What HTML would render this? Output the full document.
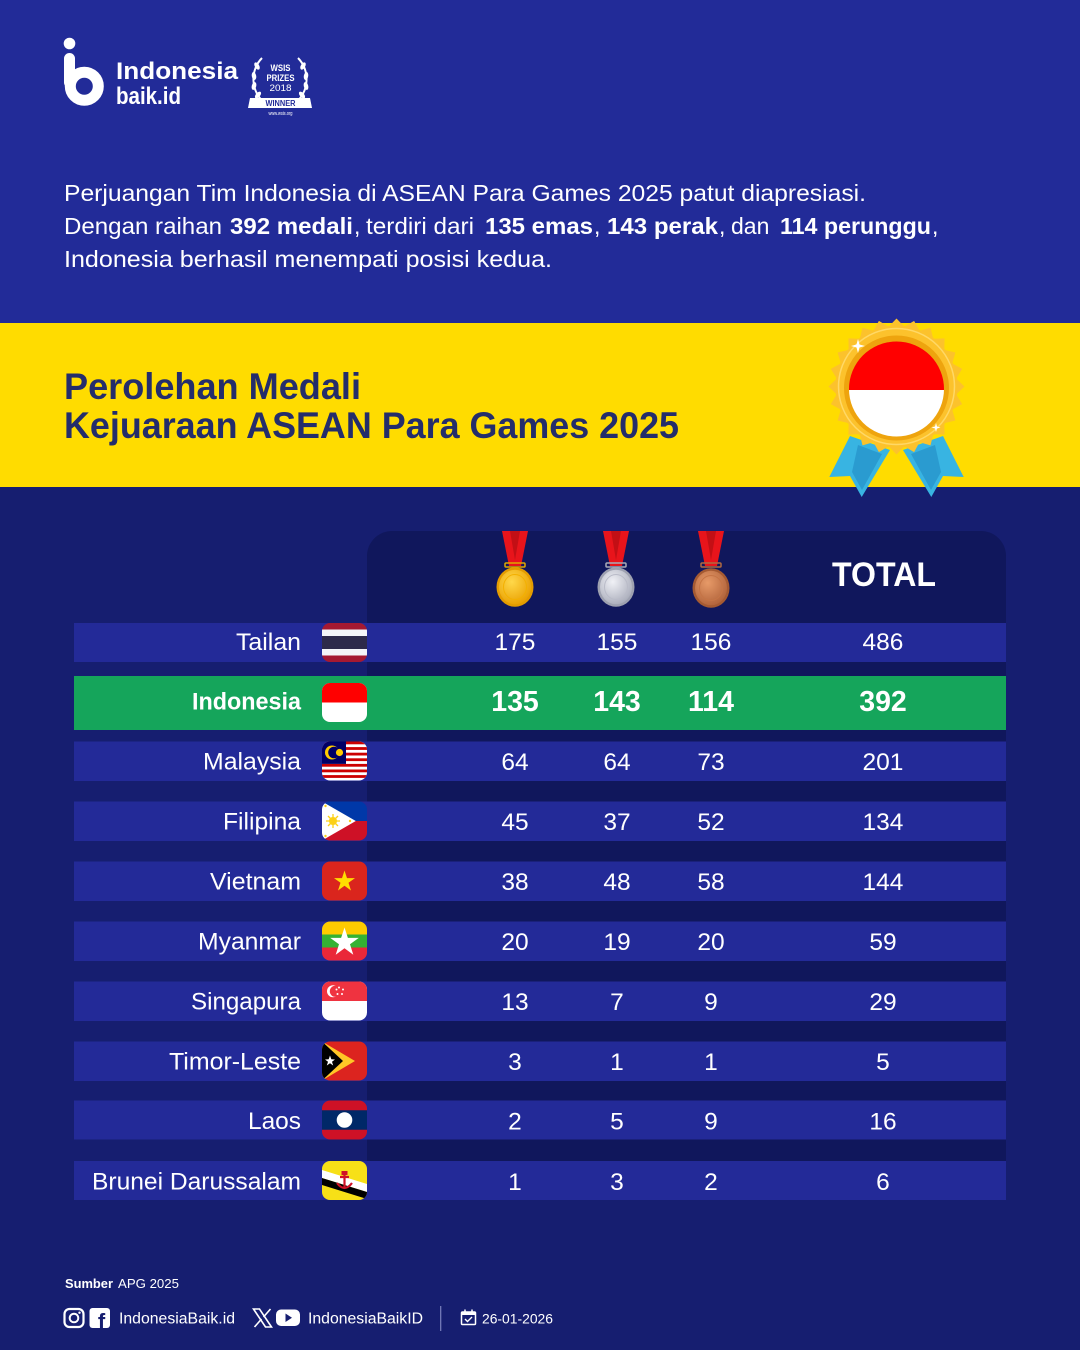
<!DOCTYPE html>
<html>
<head>
<meta charset="utf-8">
<style>
html,body{margin:0;padding:0;background:#161e70;}
svg{display:block;}
text{font-family:"Liberation Sans",Arial,sans-serif;}
</style>
</head>
<body>
<svg width="1080" height="1350" viewBox="0 0 1080 1350" xmlns="http://www.w3.org/2000/svg">
<defs>
  <clipPath id="fc"><rect x="0" y="0" width="45" height="39" rx="8" ry="8"/></clipPath>
  <clipPath id="hc"><circle cx="896.5" cy="389" r="47.5"/></clipPath>
  <radialGradient id="gGold" cx="40%" cy="35%" r="70%">
    <stop offset="0" stop-color="#ffd84a"/><stop offset="1" stop-color="#eaa000"/>
  </radialGradient>
  <radialGradient id="gSil" cx="40%" cy="35%" r="70%">
    <stop offset="0" stop-color="#f0f1f6"/><stop offset="1" stop-color="#a9acba"/>
  </radialGradient>
  <radialGradient id="gBro" cx="40%" cy="35%" r="70%">
    <stop offset="0" stop-color="#e79a68"/><stop offset="1" stop-color="#b0623a"/>
  </radialGradient>
  <polygon id="tooth" points="888.4,327 904.6,327 896.5,318.5"/>
</defs>

<!-- backgrounds -->
<rect x="0" y="0" width="1080" height="323" fill="#222b98"/>
<rect x="0" y="323" width="1080" height="164" fill="#ffdc00"/>
<rect x="0" y="487" width="1080" height="863" fill="#161e70"/>

<!-- logo -->
<circle cx="69.5" cy="43.5" r="5.8" fill="#fff"/>
<rect x="64" y="53" width="11" height="35" rx="5.5" fill="#fff"/>
<circle cx="84.3" cy="86.2" r="14" fill="none" stroke="#fff" stroke-width="11"/>
<text x="116" y="79" font-size="24" font-weight="bold" fill="#fff" textLength="122" lengthAdjust="spacingAndGlyphs">Indonesia</text>
<text x="116" y="104" font-size="24" font-weight="bold" fill="#fff" textLength="65" lengthAdjust="spacingAndGlyphs">baik.id</text>

<!-- WSIS badge -->
<g fill="none" stroke="#fff" stroke-width="2">
  <path d="M262,58 C250,70 250,92 266,104"/>
  <path d="M298,58 C310,70 310,92 294,104"/>
</g>
<g fill="#fff">
  <ellipse cx="257" cy="66" rx="2.2" ry="4" transform="rotate(-30 257 66)"/>
  <ellipse cx="254" cy="76" rx="2.2" ry="4" transform="rotate(-10 254 76)"/>
  <ellipse cx="254" cy="86" rx="2.2" ry="4" transform="rotate(15 254 86)"/>
  <ellipse cx="258" cy="95" rx="2.2" ry="4" transform="rotate(40 258 95)"/>
  <ellipse cx="303" cy="66" rx="2.2" ry="4" transform="rotate(30 303 66)"/>
  <ellipse cx="306" cy="76" rx="2.2" ry="4" transform="rotate(10 306 76)"/>
  <ellipse cx="306" cy="86" rx="2.2" ry="4" transform="rotate(-15 306 86)"/>
  <ellipse cx="302" cy="95" rx="2.2" ry="4" transform="rotate(-40 302 95)"/>
</g>
<text x="280.5" y="71" font-size="9" font-weight="bold" fill="#fff" text-anchor="middle" textLength="20" lengthAdjust="spacingAndGlyphs">WSIS</text>
<text x="280.5" y="81" font-size="9" font-weight="bold" fill="#fff" text-anchor="middle" textLength="28" lengthAdjust="spacingAndGlyphs">PRIZES</text>
<text x="280.5" y="91" font-size="9" fill="#fff" text-anchor="middle" textLength="22" lengthAdjust="spacingAndGlyphs">2018</text>
<path d="M250,98 L310,98 L312,108 L248,108 Z" fill="#fff"/>
<text x="280.5" y="106" font-size="8" font-weight="bold" fill="#222b98" text-anchor="middle" textLength="30" lengthAdjust="spacingAndGlyphs">WINNER</text>
<text x="280.5" y="115" font-size="5" fill="#fff" text-anchor="middle" textLength="24" lengthAdjust="spacingAndGlyphs">www.wsis.org</text>

<!-- intro paragraph -->
<g font-size="23" fill="#fff">
  <text x="64" y="201" textLength="802" lengthAdjust="spacingAndGlyphs">Perjuangan Tim Indonesia di ASEAN Para Games 2025 patut diapresiasi.</text>
  <text x="64" y="234" textLength="158" lengthAdjust="spacingAndGlyphs">Dengan raihan</text>
  <text x="230" y="234" font-weight="bold" textLength="123" lengthAdjust="spacingAndGlyphs">392 medali</text>
  <text x="354" y="234">,</text>
  <text x="366" y="234" textLength="108" lengthAdjust="spacingAndGlyphs">terdiri dari</text>
  <text x="485" y="234" font-weight="bold" textLength="108" lengthAdjust="spacingAndGlyphs">135 emas</text>
  <text x="594" y="234">,</text>
  <text x="607" y="234" font-weight="bold" textLength="111" lengthAdjust="spacingAndGlyphs">143 perak</text>
  <text x="719" y="234">,</text>
  <text x="731" y="234">dan</text>
  <text x="780" y="234" font-weight="bold" textLength="151" lengthAdjust="spacingAndGlyphs">114 perunggu</text>
  <text x="932" y="234">,</text>
  <text x="64" y="267" textLength="488" lengthAdjust="spacingAndGlyphs">Indonesia berhasil menempati posisi kedua.</text>
</g>

<!-- title -->
<g font-size="37" font-weight="bold" fill="#242d6b">
  <text x="64" y="399" textLength="297" lengthAdjust="spacingAndGlyphs">Perolehan Medali</text>
  <text x="64" y="438" textLength="615" lengthAdjust="spacingAndGlyphs">Kejuaraan ASEAN Para Games 2025</text>
</g>

<!-- header medal: ribbons -->
<polygon points="850,436 890,450 861.7,497 850,476 829.3,477" fill="#38b4e2"/>
<polygon points="858,445 882,454 862,490 852,472" fill="#2a9bd0"/>
<polygon points="943,436 903,450 931.3,497 943,476 963.7,477" fill="#38b4e2"/>
<polygon points="935,445 911,454 931,490 941,472" fill="#2a9bd0"/>
<!-- starburst -->
<g fill="#fcc22c">
  <circle cx="896.5" cy="386.5" r="61"/>
  <use href="#tooth"/>
  <use href="#tooth" transform="rotate(15 896.5 386.5)"/>
  <use href="#tooth" transform="rotate(30 896.5 386.5)"/>
  <use href="#tooth" transform="rotate(45 896.5 386.5)"/>
  <use href="#tooth" transform="rotate(60 896.5 386.5)"/>
  <use href="#tooth" transform="rotate(75 896.5 386.5)"/>
  <use href="#tooth" transform="rotate(90 896.5 386.5)"/>
  <use href="#tooth" transform="rotate(105 896.5 386.5)"/>
  <use href="#tooth" transform="rotate(120 896.5 386.5)"/>
  <use href="#tooth" transform="rotate(135 896.5 386.5)"/>
  <use href="#tooth" transform="rotate(150 896.5 386.5)"/>
  <use href="#tooth" transform="rotate(165 896.5 386.5)"/>
  <use href="#tooth" transform="rotate(180 896.5 386.5)"/>
  <use href="#tooth" transform="rotate(195 896.5 386.5)"/>
  <use href="#tooth" transform="rotate(210 896.5 386.5)"/>
  <use href="#tooth" transform="rotate(225 896.5 386.5)"/>
  <use href="#tooth" transform="rotate(240 896.5 386.5)"/>
  <use href="#tooth" transform="rotate(255 896.5 386.5)"/>
  <use href="#tooth" transform="rotate(270 896.5 386.5)"/>
  <use href="#tooth" transform="rotate(285 896.5 386.5)"/>
  <use href="#tooth" transform="rotate(300 896.5 386.5)"/>
  <use href="#tooth" transform="rotate(315 896.5 386.5)"/>
  <use href="#tooth" transform="rotate(330 896.5 386.5)"/>
  <use href="#tooth" transform="rotate(345 896.5 386.5)"/>
</g>
<circle cx="896.5" cy="386.5" r="58" fill="none" stroke="#ffd866" stroke-width="1.5"/>
<circle cx="896.5" cy="388" r="52.5" fill="#eea40e"/>
<g clip-path="url(#hc)">
  <rect x="845" y="338" width="104" height="52" fill="#ff0000"/>
  <rect x="845" y="390" width="104" height="52" fill="#ffffff"/>
</g>
<g fill="#fff">
  <path d="M858,339 L859.5,344.5 L865,346 L859.5,347.5 L858,353 L856.5,347.5 L851,346 L856.5,344.5 Z"/>
  <path d="M936,423 L937,426.5 L940.5,427.5 L937,428.5 L936,432 L935,428.5 L931.5,427.5 L935,426.5 Z"/>
</g>

<!-- table panel -->
<rect x="367" y="531" width="639" height="669" rx="25" ry="25" fill="#10175c"/>
<rect x="367" y="1170" width="639" height="30" fill="#10175c"/>

<!-- header medals -->
<g>
  <polygon points="502,531 528,531 521,566 509,566" fill="#e8141b"/>
  <polygon points="510,531 520,531 515,560" fill="#c30f15"/>
  <rect x="505" y="563" width="20" height="4" rx="1" fill="none" stroke="#e0a800" stroke-width="1.5"/>
  <ellipse cx="515" cy="587" rx="18.5" ry="19.8" fill="#e49c00"/>
  <ellipse cx="515" cy="587" rx="16" ry="17.3" fill="url(#gGold)"/>
  <ellipse cx="515" cy="587" rx="11.5" ry="12.5" fill="none" stroke="#f3b000" stroke-width="1"/>
</g>
<g>
  <polygon points="603,531 629,531 622,566 610,566" fill="#e8141b"/>
  <polygon points="611,531 621,531 616,560" fill="#c30f15"/>
  <rect x="606" y="563" width="20" height="4" rx="1" fill="none" stroke="#a8abb8" stroke-width="1.5"/>
  <ellipse cx="616" cy="587" rx="18.5" ry="19.8" fill="#9ea1b0"/>
  <ellipse cx="616" cy="587" rx="16" ry="17.3" fill="url(#gSil)"/>
  <ellipse cx="616" cy="587" rx="11.5" ry="12.5" fill="none" stroke="#b9bbc8" stroke-width="1"/>
</g>
<g>
  <polygon points="698,531 724,531 717,566 705,566" fill="#e8141b"/>
  <polygon points="706,531 716,531 711,560" fill="#c30f15"/>
  <rect x="701" y="563" width="20" height="4" rx="1" fill="none" stroke="#b06a40" stroke-width="1.5"/>
  <ellipse cx="711" cy="588" rx="18.5" ry="19.8" fill="#a55a32"/>
  <ellipse cx="711" cy="588" rx="16" ry="17.3" fill="url(#gBro)"/>
  <ellipse cx="711" cy="588" rx="11.5" ry="12.5" fill="none" stroke="#c57446" stroke-width="1"/>
</g>
<text x="884" y="586" font-size="34" font-weight="bold" fill="#fff" text-anchor="middle" textLength="104" lengthAdjust="spacingAndGlyphs">TOTAL</text>

<!-- rows -->
<g fill="#232a98">
  <rect x="74" y="623" width="932" height="39"/>
  <rect x="74" y="741.5" width="932" height="39.5"/>
  <rect x="74" y="801.5" width="932" height="39.5"/>
  <rect x="74" y="861.5" width="932" height="39.5"/>
  <rect x="74" y="921.5" width="932" height="39.5"/>
  <rect x="74" y="981.5" width="932" height="39.5"/>
  <rect x="74" y="1041.5" width="932" height="39.5"/>
  <rect x="74" y="1100.5" width="932" height="39"/>
  <rect x="74" y="1161" width="932" height="39"/>
</g>
<rect x="74" y="676" width="932" height="54" fill="#15a55b"/>

<!-- flags -->
<g transform="translate(322,623)" clip-path="url(#fc)">
  <rect width="45" height="39" fill="#a51931"/>
  <rect y="6.5" width="45" height="26" fill="#f4f5f8"/>
  <rect y="13" width="45" height="13" fill="#2d2a4a"/>
</g>
<g transform="translate(322,683)" clip-path="url(#fc)">
  <rect width="45" height="39" fill="#fff"/>
  <rect width="45" height="19.5" fill="#ff0000"/>
</g>
<g transform="translate(322,741.5)" clip-path="url(#fc)">
  <rect width="45" height="39" fill="#fff"/>
  <rect y="0" width="45" height="2.8" fill="#cc0001"/>
  <rect y="5.6" width="45" height="2.8" fill="#cc0001"/>
  <rect y="11.2" width="45" height="2.8" fill="#cc0001"/>
  <rect y="16.8" width="45" height="2.8" fill="#cc0001"/>
  <rect y="22.4" width="45" height="2.8" fill="#cc0001"/>
  <rect y="28" width="45" height="2.8" fill="#cc0001"/>
  <rect y="33.6" width="45" height="2.8" fill="#cc0001"/>
  <rect width="24" height="22.4" fill="#010066"/>
  <circle cx="10" cy="11" r="7" fill="#fc0"/>
  <circle cx="12" cy="11" r="5.8" fill="#010066"/>
  <circle cx="17.5" cy="11" r="3.6" fill="#fc0"/>
</g>
<g transform="translate(322,801.5)" clip-path="url(#fc)">
  <rect width="45" height="19.5" fill="#0038a8"/>
  <rect y="19.5" width="45" height="19.5" fill="#ce1126"/>
  <polygon points="0,0 0,39 33.8,19.5" fill="#fff"/>
  <circle cx="11" cy="19.5" r="4" fill="#fcd116"/>
  <g stroke="#fcd116" stroke-width="1.3">
    <line x1="4" y1="19.5" x2="18" y2="19.5"/><line x1="11" y1="12.5" x2="11" y2="26.5"/>
    <line x1="6" y1="14.5" x2="16" y2="24.5"/><line x1="16" y1="14.5" x2="6" y2="24.5"/>
  </g>
  <circle cx="3.5" cy="4.5" r="1.2" fill="#fcd116"/><circle cx="3.5" cy="34.5" r="1.2" fill="#fcd116"/><circle cx="28" cy="19.5" r="1.2" fill="#fcd116"/>
</g>
<g transform="translate(322,861.5)" clip-path="url(#fc)">
  <rect width="45" height="39" fill="#da251d"/>
  <polygon points="22.5,9 25,16.6 33,16.6 26.5,21.3 29,29 22.5,24.2 16,29 18.5,21.3 12,16.6 20,16.6" fill="#ffdd00"/>
</g>
<g transform="translate(322,921.5)" clip-path="url(#fc)">
  <rect width="45" height="13" fill="#fecb00"/>
  <rect y="13" width="45" height="13" fill="#34b233"/>
  <rect y="26" width="45" height="13" fill="#ea2839"/>
  <polygon points="22.5,6 25.9,16.4 36.8,16.4 28,22.8 31.3,33.2 22.5,26.8 13.7,33.2 17,22.8 8.2,16.4 19.1,16.4" fill="#fff"/>
</g>
<g transform="translate(322,981.5)" clip-path="url(#fc)">
  <rect width="45" height="39" fill="#fff"/>
  <rect width="45" height="19.5" fill="#ef3340"/>
  <circle cx="11" cy="9.8" r="6" fill="#fff"/>
  <circle cx="13.3" cy="9.8" r="5.5" fill="#ef3340"/>
  <g fill="#fff"><circle cx="17" cy="6" r="1"/><circle cx="21" cy="8" r="1"/><circle cx="20" cy="12.5" r="1"/><circle cx="15.5" cy="12.5" r="1"/><circle cx="14.5" cy="8" r="1"/></g>
</g>
<g transform="translate(322,1041.5)" clip-path="url(#fc)">
  <rect width="45" height="39" fill="#dc241f"/>
  <polygon points="0,0 0,39 33,19.5" fill="#ffc726"/>
  <polygon points="0,0 0,39 21,19.5" fill="#000"/>
  <polygon points="8,14 9.3,17.8 13,18 10,20.3 11.2,24 8,21.8 4.8,24 6,20.3 3,18 6.7,17.8" fill="#fff"/>
</g>
<g transform="translate(322,1100.5)" clip-path="url(#fc)">
  <rect width="45" height="39" fill="#ce1126"/>
  <rect y="9.75" width="45" height="19.5" fill="#002868"/>
  <circle cx="22.5" cy="19.5" r="7.8" fill="#fff"/>
</g>
<g transform="translate(322,1161)" clip-path="url(#fc)">
  <rect width="45" height="39" fill="#f7e017"/>
  <polygon points="0,9 0,17 45,31 45,23" fill="#fff"/>
  <polygon points="0,17 0,24 45,38 45,31" fill="#000"/>
  <path d="M15,22 Q22.5,32 30,22 M22.5,11 L22.5,27 M18,16 L27,16" stroke="#cf1126" stroke-width="2.2" fill="none"/>
  <rect x="19.5" y="10" width="6" height="4" fill="#cf1126"/>
</g>

<!-- country names -->
<g font-size="24" fill="#fff" text-anchor="end">
  <text x="301" y="650" textLength="65" lengthAdjust="spacingAndGlyphs">Tailan</text>
  <text x="301" y="709.5" font-weight="bold" textLength="109" lengthAdjust="spacingAndGlyphs">Indonesia</text>
  <text x="301" y="769.5" textLength="98" lengthAdjust="spacingAndGlyphs">Malaysia</text>
  <text x="301" y="829.5" textLength="78" lengthAdjust="spacingAndGlyphs">Filipina</text>
  <text x="301" y="889.5" textLength="91" lengthAdjust="spacingAndGlyphs">Vietnam</text>
  <text x="301" y="949.5" textLength="103" lengthAdjust="spacingAndGlyphs">Myanmar</text>
  <text x="301" y="1009.5" textLength="110" lengthAdjust="spacingAndGlyphs">Singapura</text>
  <text x="301" y="1069.5" textLength="132" lengthAdjust="spacingAndGlyphs">Timor-Leste</text>
  <text x="301" y="1129" textLength="53" lengthAdjust="spacingAndGlyphs">Laos</text>
  <text x="301" y="1189.5" textLength="209" lengthAdjust="spacingAndGlyphs">Brunei Darussalam</text>
</g>

<!-- numbers -->
<g font-size="24.5" fill="#fff" text-anchor="middle">
  <text x="515" y="650">175</text><text x="617" y="650">155</text><text x="711" y="650">156</text><text x="883" y="650">486</text>
  <text x="515" y="770">64</text><text x="617" y="770">64</text><text x="711" y="770">73</text><text x="883" y="770">201</text>
  <text x="515" y="830">45</text><text x="617" y="830">37</text><text x="711" y="830">52</text><text x="883" y="830">134</text>
  <text x="515" y="890">38</text><text x="617" y="890">48</text><text x="711" y="890">58</text><text x="883" y="890">144</text>
  <text x="515" y="950">20</text><text x="617" y="950">19</text><text x="711" y="950">20</text><text x="883" y="950">59</text>
  <text x="515" y="1010">13</text><text x="617" y="1010">7</text><text x="711" y="1010">9</text><text x="883" y="1010">29</text>
  <text x="515" y="1070">3</text><text x="617" y="1070">1</text><text x="711" y="1070">1</text><text x="883" y="1070">5</text>
  <text x="515" y="1129.5">2</text><text x="617" y="1129.5">5</text><text x="711" y="1129.5">9</text><text x="883" y="1129.5">16</text>
  <text x="515" y="1190">1</text><text x="617" y="1190">3</text><text x="711" y="1190">2</text><text x="883" y="1190">6</text>
</g>
<g font-size="28.5" font-weight="bold" fill="#fff" text-anchor="middle">
  <text x="515" y="711">135</text><text x="617" y="711">143</text><text x="711" y="711">114</text><text x="883" y="711">392</text>
</g>

<!-- footer -->
<text x="65" y="1288" font-size="13" font-weight="bold" fill="#fff" textLength="48" lengthAdjust="spacingAndGlyphs">Sumber</text>
<text x="118" y="1288" font-size="13" fill="#fff" textLength="61" lengthAdjust="spacingAndGlyphs">APG 2025</text>

<rect x="64.5" y="1309" width="19" height="18" rx="5" fill="none" stroke="#fff" stroke-width="2.2"/>
<circle cx="74" cy="1318" r="4.3" fill="none" stroke="#fff" stroke-width="2"/>
<circle cx="79.5" cy="1312.7" r="1.2" fill="#fff"/>
<rect x="89.5" y="1308" width="20.5" height="20" rx="3" fill="#fff"/>
<text x="101.5" y="1329" font-size="22" font-weight="bold" fill="#161e70" text-anchor="middle">f</text>
<text x="119" y="1323.5" font-size="15.5" fill="#fff" textLength="116" lengthAdjust="spacingAndGlyphs">IndonesiaBaik.id</text>

<g stroke="#fff" stroke-width="1.6" fill="none">
  <path d="M253.5,1309 L259.5,1309 L271.5,1327 L265.5,1327 Z"/>
  <line x1="270.5" y1="1309" x2="263.5" y2="1317"/>
  <line x1="254.5" y1="1327" x2="261.5" y2="1319"/>
</g>
<rect x="276" y="1309.5" width="24" height="16.5" rx="5" fill="#fff"/>
<polygon points="285.5,1313.5 285.5,1322 292,1317.7" fill="#161e70"/>
<text x="308" y="1323.5" font-size="15.5" fill="#fff" textLength="115" lengthAdjust="spacingAndGlyphs">IndonesiaBaikID</text>

<line x1="440.7" y1="1306" x2="440.7" y2="1331" stroke="#7a80bd" stroke-width="1.2"/>

<rect x="461.5" y="1312" width="14" height="12.5" rx="1" fill="none" stroke="#fff" stroke-width="1.5"/>
<rect x="461.5" y="1312" width="14" height="3" fill="#fff"/>
<line x1="465" y1="1309.5" x2="465" y2="1313" stroke="#fff" stroke-width="1.5"/>
<line x1="472" y1="1309.5" x2="472" y2="1313" stroke="#fff" stroke-width="1.5"/>
<path d="M465,1319 L467.5,1321.5 L472,1317" stroke="#fff" stroke-width="1.4" fill="none"/>
<text x="482" y="1323.5" font-size="14" fill="#fff" textLength="71" lengthAdjust="spacingAndGlyphs">26-01-2026</text>
</svg>
</body>
</html>
